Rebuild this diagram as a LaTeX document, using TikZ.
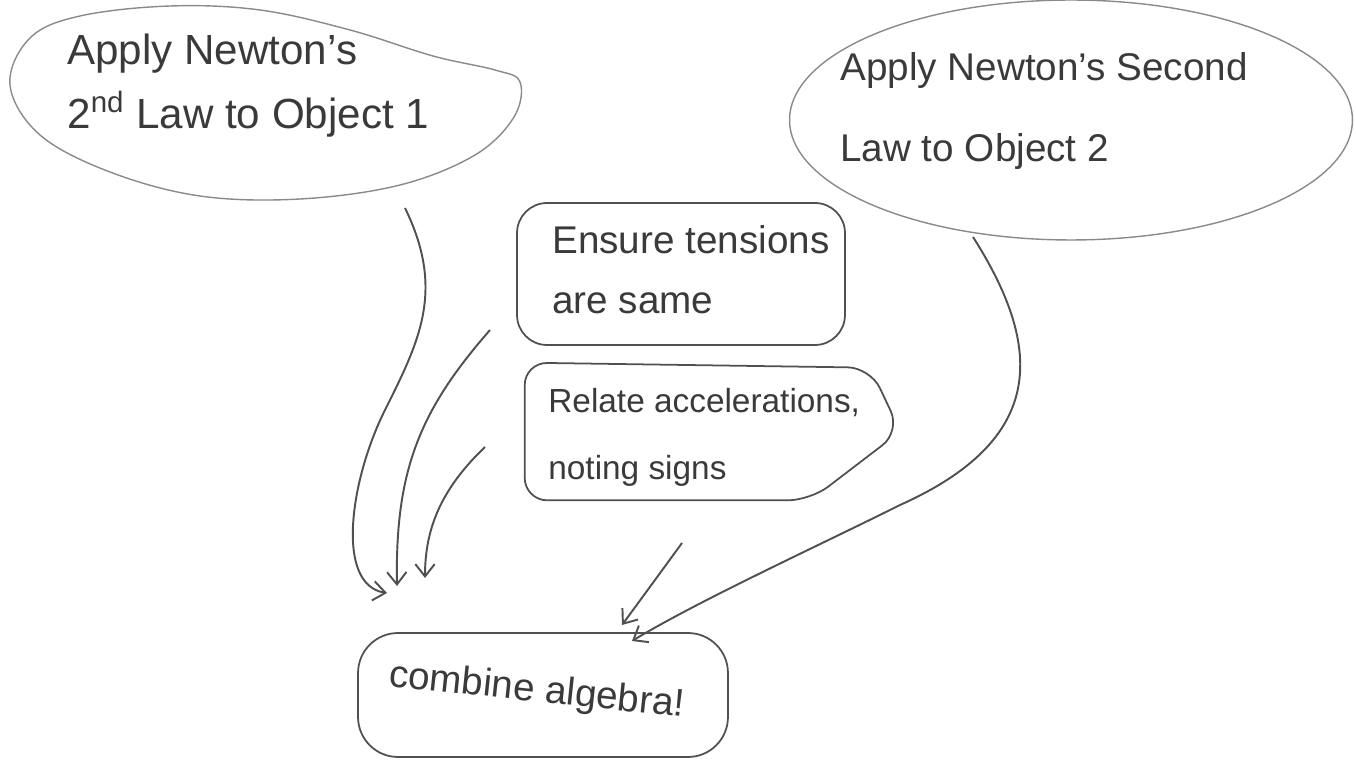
\documentclass[tikz,border=0pt]{standalone}
\usepackage{fontspec}
\setmainfont{Liberation Sans}
\usetikzlibrary{shapes.geometric,arrows.meta,calc}
\definecolor{ink}{HTML}{3A3A3A}
\definecolor{pencil}{HTML}{505050}
\definecolor{faint}{HTML}{8A8A8A}
\begin{document}
\begin{tikzpicture}[x=0.02cm,y=-0.02cm,
  blob/.style={ellipse, draw=faint, line width=0.8pt, inner sep=0pt},
  blobline/.style={draw=faint, line width=0.8pt},
  boxn/.style={rectangle, draw=pencil, line width=1pt, rounded corners=0.6cm, inner sep=0pt},
  txt/.style={text=ink, inner sep=0pt, align=left, anchor=north west},
  conn/.style={draw=pencil, line width=1.1pt, -{Straight Barb[length=7pt,width=11pt]}}]
\useasboundingbox (0,0) rectangle (1356,773);

% shapes
\node[ellipse, inner sep=0pt, minimum width=10.24cm, minimum height=3.9cm] (obj1) at (264,102) {};
\draw[blobline] plot[smooth cycle, tension=0.6] coordinates {
  (10,85) (30,38) (80,16) (170,6) (260,10) (350,30) (433,56) (495,70)
  (520,82) (514,117) (475,155) (400,185) (300,199) (200,196) (110,172) (40,135)};
\node[blob, minimum width=11.26cm, minimum height=4.8cm] (obj2) at (1071,120) {};
\node[boxn, minimum width=6.56cm, minimum height=2.84cm] (tens) at (681,274) {};
\node[minimum width=7.5cm, minimum height=2.74cm, inner sep=0pt] (acc) at (712.5,431.5) {};
\draw[draw=pencil, line width=1pt, rounded corners=0.45cm]
  (acc.north west) -- ($(acc.north east)+(-30,5)$) -- (acc.east)
  -- ($(acc.south east)+(-90,0)$) -- (acc.south west) -- cycle;
\node[boxn, rounded corners=0.8cm, minimum width=7.4cm, minimum height=2.48cm] (comb) at (543,695) {};

% texts
\node[txt, font=\fontsize{24}{36}\selectfont] (t1) at (67,34) {Apply Newton's\\2\textsuperscript{nd} Law to Object 1};
\node[txt, font=\fontsize{22}{46}\selectfont] (t2) at (840,52) {Apply Newton's Second\\Law to Object 2};
\node[txt, font=\fontsize{22}{34}\selectfont] (t3) at (552,225) {Ensure tensions\\are same};
\node[txt, font=\fontsize{19}{38}\selectfont] (t4) at (548,388) {Relate accelerations,\\noting signs};
\node[text=ink, inner sep=0pt, anchor=base west, rotate=-6, font=\fontsize{22}{26}\selectfont] (t5) at (388,686) {combine algebra!};

% connector ends
\coordinate (s1) at (405,208);
\coordinate (e1) at (387,593);
\coordinate (s2) at (490,330);
\coordinate (e2) at (397,586);
\coordinate (s3) at (485,447);
\coordinate (e3) at (425,578);
\coordinate (s4) at (682,543);
\coordinate (e4) at (622,625);
\coordinate (s5) at (973,237);
\coordinate (e5) at (632,641);

\draw[conn] (s1) .. controls (445,290) and (420,340) .. (385,410)
  .. controls (350,480) and (335,585) .. (e1);
\draw[conn] (s2) .. controls (420,410) and (395,470) .. (e2);
\draw[conn] (s3) .. controls (440,490) and (425,530) .. (e3);
\draw[conn] (s4) .. controls (655,580) .. (e4);
\draw[conn] (s5) .. controls (1045,350) and (1045,440) .. (900,505)
  .. controls (820,545) and (700,600) .. (e5);
\end{tikzpicture}
\end{document}
